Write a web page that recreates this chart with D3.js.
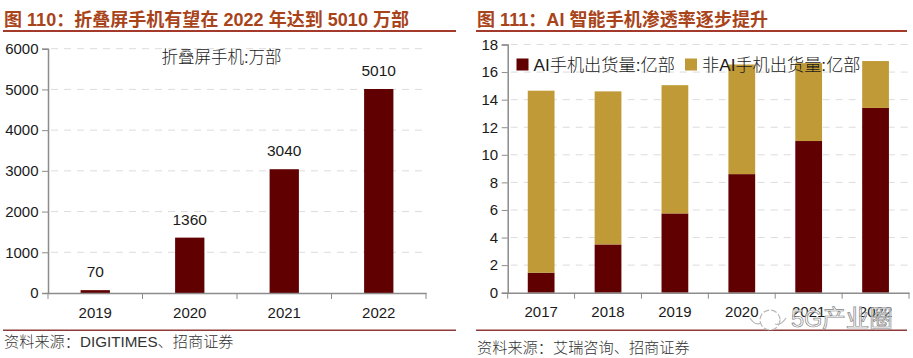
<!DOCTYPE html>
<html><head><meta charset="utf-8">
<script src="https://cdn.jsdelivr.net/npm/d3@7"></script>
<style>
html,body{margin:0;padding:0;background:#fff}
svg{display:block}
text{font-family:"Liberation Sans","Noto Sans CJK SC",sans-serif;fill:#1a1a1a}
</style></head><body><svg id="c" width="913" height="358"></svg>
<script>
const foldYears = ["2019","2020","2021","2022"];
const foldValues = [70,1360,3040,5010];
const foldTicks = [0,1000,2000,3000,4000,5000,6000];
const aiYears = ["2017","2018","2019","2020","2021","2022"];
const aiPhones = [1.45,3.5,5.75,8.6,11,13.4];
const nonAiPhones = [13.2,11.1,9.3,7.95,5.65,3.4];
const aiTicks = [0,2,4,6,8,10,12,14,16,18];
const titleLeft = "图 110\uFF1A折叠屏手机有望在 2022 年达到 5010 万部";
const titleRight = "图 111\uFF1AAI 智能手机渗透率逐步提升";
const sourceLeft = "资料来源\uFF1ADIGITIMES、招商证券";
const sourceRight = "资料来源\uFF1A艾瑞咨询、招商证券";
const seriesNames = ["AI手机出货量:亿部","非AI手机出货量:亿部"];
const foldName = "折叠屏手机:万部";
const watermark = "5G产业圈";

const DARK="#600000", GOLD="#bf9a37", RULE="#a33a2c", TITLE="#a8431a", AXIS="#8c8c8c", GRID="#dcdcdc";
const svg=d3.select("#c");

function frame(x0,x1,title,src,tx,srcY,tw){
  svg.append("text").attr("x",tx).attr("y",26).attr("font-size",18).attr("font-weight",700)
    .attr("textLength",tw).attr("lengthAdjust","spacing")
    .style("fill",TITLE).text(title);
  svg.append("rect").attr("x",x0).attr("y",30).attr("width",x1-x0).attr("height",2).attr("fill",RULE);
  svg.append("rect").attr("x",x0).attr("y",329.5).attr("width",x1-x0).attr("height",1.5).attr("fill","#8f3a3a");
  svg.append("text").attr("x",tx).attr("y",srcY).attr("font-size",15.2).style("fill","#333").attr("font-weight",300).text(src);
}
frame(3,456,titleLeft,sourceLeft,4,347,405);
frame(476,907,titleRight,sourceRight,477,353,291);

function grid(y,ticks,left,right){
  svg.append("g").selectAll("line").data(ticks.filter(d=>d>0)).join("line")
    .attr("x1",left+3).attr("x2",right).attr("y1",d=>y(d)).attr("y2",d=>y(d))
    .attr("stroke",GRID).attr("stroke-width",1).attr("stroke-dasharray","7 6");
}
function drawAxes(x,y,ticks,left,right,fs){
  const base=y.range()[0];
  const ya=svg.append("g").attr("transform",`translate(${left},0)`)
    .call(d3.axisLeft(y).tickValues(ticks).tickSize(6).tickPadding(3.5).tickFormat(d3.format("d")));
  const xa=svg.append("g").attr("transform",`translate(0,${base})`)
    .call(d3.axisBottom(x).tickSize(0).tickPadding(14));
  xa.selectAll("line.b").data(x.domain().concat("_end")).join("line").attr("class","b")
    .attr("x1",(d,i)=>left+i*x.step()).attr("x2",(d,i)=>left+i*x.step())
    .attr("y1",0).attr("y2",6).attr("stroke",AXIS).attr("stroke-width",1);
  [ya,xa].forEach(a=>{
    a.select(".domain").attr("stroke",AXIS).attr("stroke-width",1.5);
    a.selectAll(".tick line").attr("stroke",AXIS);
    a.selectAll("text").attr("font-size",fs).attr("font-family",null).style("fill","#1a1a1a");
  });
}

// left chart
{
  const left=48,right=426;
  const x=d3.scaleBand().domain(foldYears).range([left,right]).paddingInner(0.69).paddingOuter(0.345);
  const y=d3.scaleLinear().domain([0,6000]).range([293,48.7]);
  grid(y,foldTicks,left,right);
  svg.append("g").selectAll("rect").data(foldYears).join("rect")
    .attr("x",d=>x(d)).attr("width",x.bandwidth())
    .attr("y",(d,i)=>y(foldValues[i])).attr("height",(d,i)=>y(0)-y(foldValues[i])).attr("fill",DARK);
  drawAxes(x,y,foldTicks,left,right,15);
  svg.append("g").selectAll("text").data(foldYears).join("text")
    .attr("x",d=>x(d)+x.bandwidth()/2).attr("y",(d,i)=>y(foldValues[i])-13)
    .attr("text-anchor","middle").attr("font-size",15.5).text((d,i)=>foldValues[i]);
  svg.append("text").attr("x",221.5).attr("y",63).attr("text-anchor","middle").attr("font-size",16.5)
    .attr("font-weight",300).text(foldName);
}

// right chart
{
  const left=507.7,right=909;
  const x=d3.scaleBand().domain(aiYears).range([left,right]).paddingInner(0.6).paddingOuter(0.3);
  const y=d3.scaleLinear().domain([0,18]).range([292.7,44.5]);
  grid(y,aiTicks,left,right);
  const rows=aiYears.map((d,i)=>({year:d,ai:aiPhones[i],non:nonAiPhones[i]}));
  const stack=d3.stack().keys(["ai","non"])(rows);
  const col={ai:DARK,non:GOLD};
  svg.append("g").selectAll("g").data(stack).join("g").attr("fill",s=>col[s.key])
    .selectAll("rect").data(s=>s).join("rect")
    .attr("x",d=>x(d.data.year)).attr("width",x.bandwidth())
    .attr("y",d=>y(d[1])).attr("height",d=>y(d[0])-y(d[1]));
  drawAxes(x,y,aiTicks,left,right,15);
  const lg=svg.append("g");
  const items=[{c:DARK,x:516.5,t:seriesNames[0]},{c:GOLD,x:685,t:seriesNames[1]}];
  lg.selectAll("rect").data(items).join("rect").attr("x",d=>d.x).attr("y",58.5).attr("width",12).attr("height",12).attr("fill",d=>d.c);
  lg.selectAll("text").data(items).join("text").attr("x",d=>d.x+17).attr("y",70.5).attr("font-size",17.2)
    .attr("font-weight",300).text(d=>d.t);
}

// watermark
{
  const g=svg.append("g");
  g.append("circle").attr("cx",770).attr("cy",320).attr("r",10).attr("fill","#fff").attr("stroke","#b8b8b8").attr("stroke-width",1.2).attr("stroke-dasharray","6 2");
  g.append("path").attr("d","M750 318 q5 8 11 5 M786 318 q-5 8 -11 6").attr("fill","none").attr("stroke","#b8b8b8").attr("stroke-width",1.2);
  g.append("text").attr("x",791).attr("y",327).attr("font-size",23.5)
    .style("fill","#fff").style("fill-opacity",.75).style("stroke","#858585").style("stroke-width",.7).text(watermark);
}
</script></body></html>
